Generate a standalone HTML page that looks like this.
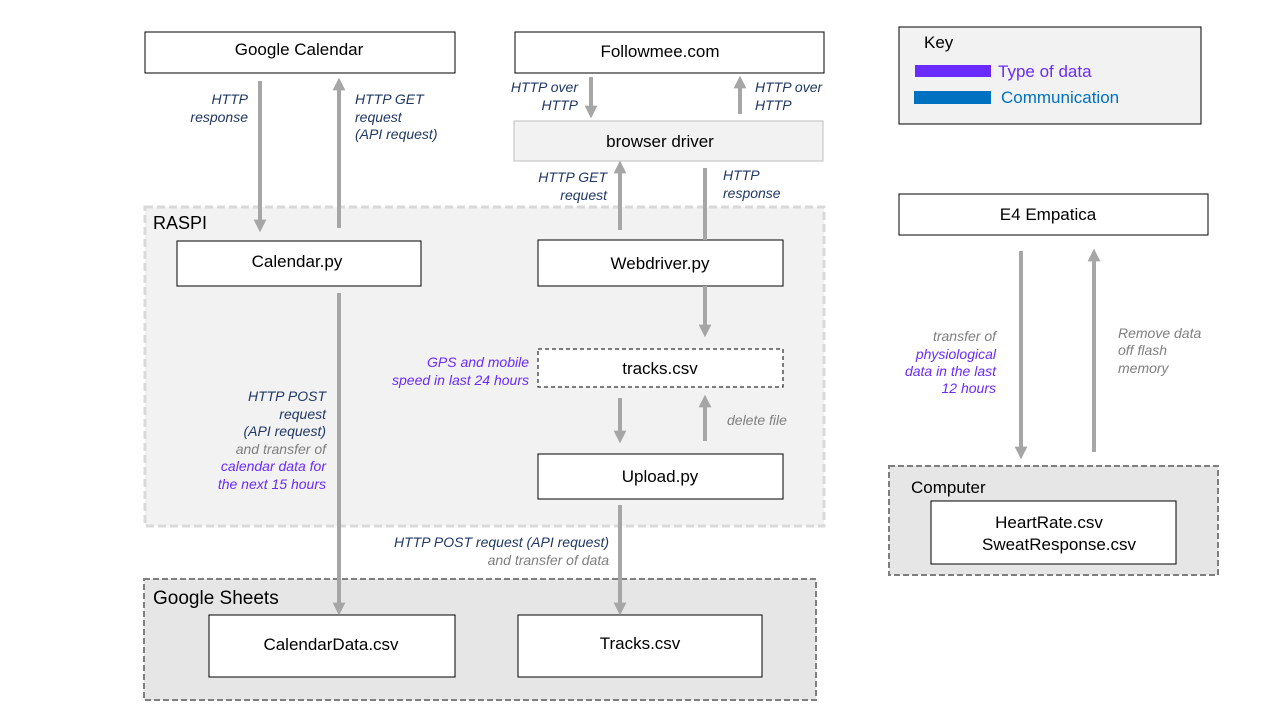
<!DOCTYPE html>
<html><head><meta charset="utf-8"><style>
html,body{margin:0;padding:0;background:#fff;}
svg{display:block;font-family:"Liberation Sans",sans-serif;}
.n{font-size:17px;fill:#000;text-anchor:middle;}
.i{font-size:14px;font-style:italic;}
.nv{fill:#1f3864;}
.pu{fill:#6a2bff;}
.gr{fill:#7f7f7f;}
.r{text-anchor:end;}
</style></head><body>
<svg width="1280" height="720" viewBox="0 0 1280 720" xmlns="http://www.w3.org/2000/svg">
<defs>
<marker id="a" viewBox="0 0 10 10" refX="5" refY="5" markerWidth="3.2" markerHeight="3.2" orient="auto"><path d="M0,0 L10,5 L0,10 z" fill="#a6a6a6"/></marker>
</defs>
<!-- regions -->
<rect x="145" y="207" width="679" height="319" fill="#f2f2f2" stroke="#d9d9d9" stroke-width="3" stroke-dasharray="8,4"/>
<rect x="144" y="579" width="672" height="121" fill="#e6e6e6" stroke="#7f7f7f" stroke-width="2" stroke-dasharray="6,3"/>
<rect x="889" y="466" width="329" height="109" fill="#e6e6e6" stroke="#7f7f7f" stroke-width="2" stroke-dasharray="6,3"/>
<text x="153" y="229" font-size="18">RASPI</text>
<text x="153" y="604" font-size="19">Google Sheets</text>
<text x="911" y="493" font-size="17">Computer</text>
<!-- boxes -->
<rect x="145" y="32" width="310" height="41" fill="#fff" stroke="#000"/>
<text class="n" x="299" y="55">Google Calendar</text>
<rect x="515" y="32" width="309" height="41" fill="#fff" stroke="#000"/>
<text class="n" x="660" y="57">Followmee.com</text>
<rect x="514" y="121" width="309" height="40" fill="#f2f2f2" stroke="#bfbfbf"/>
<text class="n" x="660" y="147">browser driver</text>
<rect x="177" y="241" width="244" height="45" fill="#fff" stroke="#000"/>
<text class="n" x="297" y="267">Calendar.py</text>
<rect x="538" y="240" width="245" height="46" fill="#fff" stroke="#000"/>
<text class="n" x="660" y="269">Webdriver.py</text>
<rect x="538" y="349" width="245" height="38" fill="#fff" stroke="#000" stroke-dasharray="4,3"/>
<text class="n" x="660" y="374">tracks.csv</text>
<rect x="538" y="454" width="245" height="45" fill="#fff" stroke="#000"/>
<text class="n" x="660" y="482">Upload.py</text>
<rect x="209" y="615" width="246" height="62" fill="#fff" stroke="#000"/>
<text class="n" x="331" y="650">CalendarData.csv</text>
<rect x="518" y="615" width="244" height="62" fill="#fff" stroke="#000"/>
<text class="n" x="640" y="649">Tracks.csv</text>
<rect x="899" y="27" width="302" height="97" fill="#f2f2f2" stroke="#000"/>
<text x="924" y="48" font-size="17">Key</text>
<rect x="915" y="65" width="76" height="12" fill="#6a2bff"/>
<rect x="914" y="91" width="77" height="13" fill="#0070c0"/>
<text x="998" y="77" font-size="17" fill="#6a2bff">Type of data</text>
<text x="1001" y="103" font-size="17" fill="#0070c0">Communication</text>
<rect x="899" y="194" width="309" height="41" fill="#fff" stroke="#000"/>
<text class="n" x="1048" y="220">E4 Empatica</text>
<rect x="931" y="501" width="245" height="63" fill="#fff" stroke="#000"/>
<text class="n" x="1049" y="528">HeartRate.csv</text>
<text class="n" x="1059" y="550">SweatResponse.csv</text>
<!-- arrows -->
<g stroke="#a6a6a6" stroke-width="4" fill="none">
<line x1="260" y1="81" x2="260" y2="226" marker-end="url(#a)"/>
<line x1="339" y1="228" x2="339" y2="84" marker-end="url(#a)"/>
<line x1="591" y1="77" x2="591" y2="112" marker-end="url(#a)"/>
<line x1="740" y1="114" x2="740" y2="82" marker-end="url(#a)"/>
<line x1="620" y1="230" x2="620" y2="167" marker-end="url(#a)"/>
<line x1="705" y1="168" x2="705" y2="240"/>
<line x1="705" y1="286" x2="705" y2="331" marker-end="url(#a)"/>
<line x1="620" y1="398" x2="620" y2="437" marker-end="url(#a)"/>
<line x1="705" y1="441" x2="705" y2="401" marker-end="url(#a)"/>
<line x1="339" y1="293" x2="339" y2="609" marker-end="url(#a)"/>
<line x1="620" y1="505" x2="620" y2="609" marker-end="url(#a)"/>
<line x1="1021" y1="251" x2="1021" y2="453" marker-end="url(#a)"/>
<line x1="1094" y1="452" x2="1094" y2="255" marker-end="url(#a)"/>
</g>
<!-- labels -->
<g class="i">
<text class="nv r" x="248" y="104">HTTP</text>
<text class="nv r" x="248" y="122">response</text>
<text class="nv" x="355" y="104">HTTP GET</text>
<text class="nv" x="355" y="122">request</text>
<text class="nv" x="355" y="139">(API request)</text>
<text class="nv r" x="578" y="92">HTTP over</text>
<text class="nv r" x="578" y="110">HTTP</text>
<text class="nv" x="755" y="92">HTTP over</text>
<text class="nv" x="755" y="110">HTTP</text>
<text class="nv r" x="607" y="182">HTTP GET</text>
<text class="nv r" x="607" y="200">request</text>
<text class="nv" x="723" y="180">HTTP</text>
<text class="nv" x="723" y="198">response</text>
<text class="pu r" x="529" y="367">GPS and mobile</text>
<text class="pu r" x="529" y="385">speed in last 24 hours</text>
<text class="gr" x="727" y="425">delete file</text>
<text class="nv r" x="326" y="401">HTTP POST</text>
<text class="nv r" x="326" y="419">request</text>
<text class="nv r" x="326" y="436">(API request)</text>
<text class="gr r" x="326" y="454">and transfer of</text>
<text class="pu r" x="326" y="471">calendar data for</text>
<text class="pu r" x="326" y="489">the next 15 hours</text>
<text class="nv r" x="609" y="547">HTTP POST request (API request)</text>
<text class="gr r" x="609" y="565">and transfer of data</text>
<text class="gr r" x="996" y="341">transfer of</text>
<text class="pu r" x="996" y="359">physiological</text>
<text class="pu r" x="996" y="376">data in the last</text>
<text class="pu r" x="996" y="393">12 hours</text>
<text class="gr" x="1118" y="338">Remove data</text>
<text class="gr" x="1118" y="355">off flash</text>
<text class="gr" x="1118" y="373">memory</text>
</g>
</svg>
</body></html>
